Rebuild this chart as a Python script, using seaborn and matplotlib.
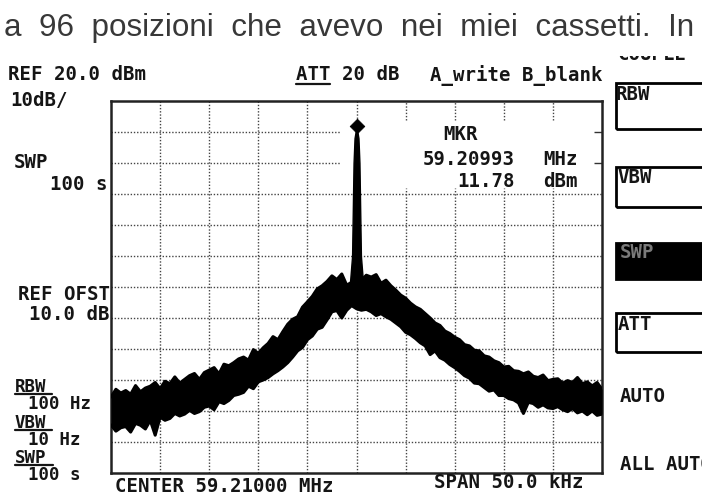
import matplotlib
matplotlib.use('Agg')
import matplotlib.pyplot as plt
import seaborn as sns
from matplotlib.patches import Rectangle
from matplotlib.lines import Line2D

# sweep: offset from center (kHz) and upper / lower edge of the noisy trace (dBm)
freq = [-25.0, -24.5, -24.0, -23.5, -23.0, -22.5, -22.0, -21.5, -21.0, -20.5,
        -20.0, -19.5, -19.0, -18.5, -18.0, -17.5, -17.0, -16.5, -16.0, -15.5,
        -15.0, -14.5, -14.0, -13.5, -13.0, -12.5, -12.0, -11.5, -11.0, -10.5,
        -10.0, -9.5, -9.0, -8.5, -8.0, -7.5, -7.0, -6.5, -6.0, -5.5,
        -5.0, -4.5, -4.0, -3.5, -3.0, -2.5, -2.0, -1.5, -1.0, -0.5,
        0.0,
        0.5, 1.0, 1.5, 2.0, 2.5, 3.0, 3.5, 4.0, 4.5, 5.0,
        5.5, 6.0, 6.5, 7.0, 7.5, 8.0, 8.5, 9.0, 9.5, 10.0,
        10.5, 11.0, 11.5, 12.0, 12.5, 13.0, 13.5, 14.0, 14.5, 15.0,
        15.5, 16.0, 16.5, 17.0, 17.5, 18.0, 18.5, 19.0, 19.5, 20.0,
        20.5, 21.0, 21.5, 22.0, 22.5, 23.0, 23.5, 24.0, 24.5, 25.0]

top = [-75.5, -73.0, -74.2, -73.4, -74.6, -71.8, -73.8, -72.6, -72.0, -70.8,
       -72.8, -70.4, -71.2, -69.0, -71.0, -69.8, -68.6, -67.9, -69.8, -67.6,
       -66.8, -66.0, -68.0, -64.9, -65.4, -64.4, -63.2, -62.6, -63.6, -60.2,
       -61.4, -59.6, -58.2, -56.0, -57.0, -54.4, -52.0, -50.4, -49.6, -46.5,
       -44.8, -43.0, -40.6, -39.6, -38.2, -36.4, -37.6, -35.8, -39.4, -38.5,
       -37.5,
       -37.8, -36.2, -36.8, -36.0, -38.8, -37.8, -39.6, -41.0, -42.6, -43.6,
       -45.2, -46.4, -47.2, -48.6, -50.0, -51.6, -52.4, -54.2, -55.0, -56.2,
       -57.0, -58.6, -59.0, -60.4, -60.6, -62.2, -62.6, -63.8, -64.4, -65.8,
       -65.6, -67.0, -67.2, -68.0, -67.4, -68.8, -69.2, -68.4, -70.2, -69.8,
       -69.6, -71.0, -70.2, -70.8, -69.2, -71.2, -70.6, -71.9, -70.8, -73.0]

bottom = [-84.5, -86.5, -85.4, -85.0, -86.8, -84.0, -84.6, -85.8, -83.0, -87.8,
          -82.0, -83.0, -82.4, -80.8, -81.6, -81.0, -79.8, -80.8, -80.2, -78.8,
          -78.4, -79.6, -77.0, -77.6, -76.6, -75.0, -74.6, -74.0, -72.0, -72.8,
          -70.6, -70.0, -69.2, -68.0, -67.0, -65.8, -64.4, -62.6, -60.6, -59.5,
          -57.0, -55.8, -53.6, -53.0, -50.6, -48.0, -47.6, -50.0, -47.5, -46.0,
          -47.0,
          -47.5, -47.2, -48.0, -49.2, -48.6, -49.6, -50.4, -51.6, -52.8, -54.6,
          -55.4, -56.6, -58.0, -59.0, -61.8, -60.6, -62.8, -63.6, -65.0, -66.0,
          -67.2, -68.6, -69.4, -71.0, -71.2, -72.4, -73.6, -73.2, -75.0, -75.0,
          -76.0, -76.4, -77.4, -80.8, -77.2, -77.6, -78.8, -78.0, -79.0, -79.2,
          -78.6, -79.6, -80.2, -79.2, -80.6, -80.0, -81.2, -80.0, -81.4, -81.0]

# carrier peak
pk_freq = [-0.7, -0.45, -0.35, -0.3, -0.2, 0.0, 0.2, 0.3, 0.35, 0.45, 0.7]
pk_level = [-40.0, -30.0, -10.0, 0.0, 8.0, 11.78, 8.0, 0.0, -10.0, -30.0, -40.0]
pk_base = -46.0
mkr_freq = [0.0]
mkr_level = [11.78]

W, H = 702, 495


def fx(x):
    return x / W


def fy(y):
    return 1 - y / H


sns.set_style('white')
plt.rcParams['font.family'] = ['DejaVu Sans Mono']

fig = plt.figure(figsize=(W / 100, H / 100), dpi=100)
ax = fig.add_axes([fx(111), fy(473), (602 - 111) / W, (473 - 101) / H])
ax.set_xlim(-25, 25)
ax.set_ylim(-100, 20)
ax.set_xticks([])
ax.set_yticks([])
for s in ax.spines.values():
    s.set_linewidth(1.8)
    s.set_color('#222222')

# graticule (blanked behind the marker readout)
gkw = dict(colors='#444444', linewidth=1.0, linestyles=(0, (1, 1.3)), zorder=1)
for x in [-20, -15, -10, -5, 0]:
    ax.vlines(x, -100, 20, **gkw)
for x in [5, 10, 15, 20]:
    ax.vlines(x, 13.8, 20, **gkw)
    ax.vlines(x, -100, -8, **gkw)
for y in [10, 0]:
    ax.hlines(y, -25, -1.6, **gkw)
    ax.hlines(y, 24.2, 25, colors='#333333', linewidth=1.0)
for y in range(-10, -100, -10):
    ax.hlines(y, -25, 25, **gkw)

# trace
ax.fill_between(freq, bottom, top, color='black', linewidth=0, zorder=3)
sns.lineplot(x=freq, y=top, color='black', linewidth=2.2, ax=ax, zorder=3)
sns.lineplot(x=freq, y=bottom, color='black', linewidth=2.2, ax=ax, zorder=3)
ax.fill_between(pk_freq, pk_base, pk_level, color='black', linewidth=1, zorder=3)
sns.scatterplot(x=mkr_freq, y=mkr_level, marker='D', s=55, color='black',
                edgecolor='black', ax=ax, zorder=4)

# text
tk = dict(fontsize=13.7, fontweight='bold', color='#151515', va='center')


def txt(x, y, s, ha='left', **kw):
    d = dict(tk)
    d.update(kw)
    fig.text(fx(x), fy(y), s, ha=ha, **d)


def uline(x0, x1, y):
    fig.add_artist(Line2D([fx(x0), fx(x1)], [fy(y), fy(y)], color='#151515', lw=1.6))


fig.text(fx(4), fy(36), 'a  96  posizioni  che  avevo  nei  miei  cassetti.  In',
         fontsize=22.6, family='Liberation Sans', color='#383838', va='baseline')

txt(8, 75, 'REF 20.0 dBm')
txt(10, 101, '10dB/')
txt(296, 75, 'ATT 20 dB')
uline(296, 330, 84)
txt(602, 75, 'A_write B_blank', ha='right')

txt(14, 162, 'SWP')
txt(108, 185, '100 s', ha='right')
txt(110, 295, 'REF OFST', ha='right')
txt(110, 314, '10.0 dB', ha='right')

sm = dict(fontsize=12.5)
txt(15, 387, 'RBW', **sm)
uline(15, 52, 394)
txt(28, 404, '100 Hz', **sm)
txt(15, 423, 'VBW', **sm)
uline(15, 52, 430)
txt(28, 440, '10 Hz', **sm)
txt(15, 458, 'SWP', **sm)
uline(15, 53, 465)
txt(28, 475, '100 s', **sm)

txt(443, 134, 'MKR')
txt(515, 159, '59.20993', ha='right')
txt(543, 159, 'MHz')
txt(515, 182, '11.78', ha='right')
txt(543, 182, 'dBm')

txt(115, 487, 'CENTER 59.21000 MHz')
txt(583, 483, 'SPAN 50.0 kHz', ha='right')

# soft-key panel on the right
txt(618, 54, 'COUPLE', zorder=1)
fig.patches.append(Rectangle((fx(605), fy(56)), fx(97), 14 / H, transform=fig.transFigure,
                             facecolor='white', edgecolor='none', zorder=2))
for y0, y1, fill in [(83, 129, False), (167, 207, False), (243, 279, True), (313, 352, False)]:
    fig.patches.append(Rectangle((fx(616), fy(y1)), fx(100), (y1 - y0) / H,
                                 transform=fig.transFigure, fill=fill,
                                 facecolor='black', edgecolor='black', lw=2))
txt(616, 95, 'RBW')
txt(617, 177, 'VBW')
txt(620, 253, 'SWP', color='#7a7a7a', zorder=5)
txt(618, 324, 'ATT')
txt(620, 397, 'AUTO')
txt(620, 465, 'ALL AUTO')

fig.savefig('out.png', dpi=100)
